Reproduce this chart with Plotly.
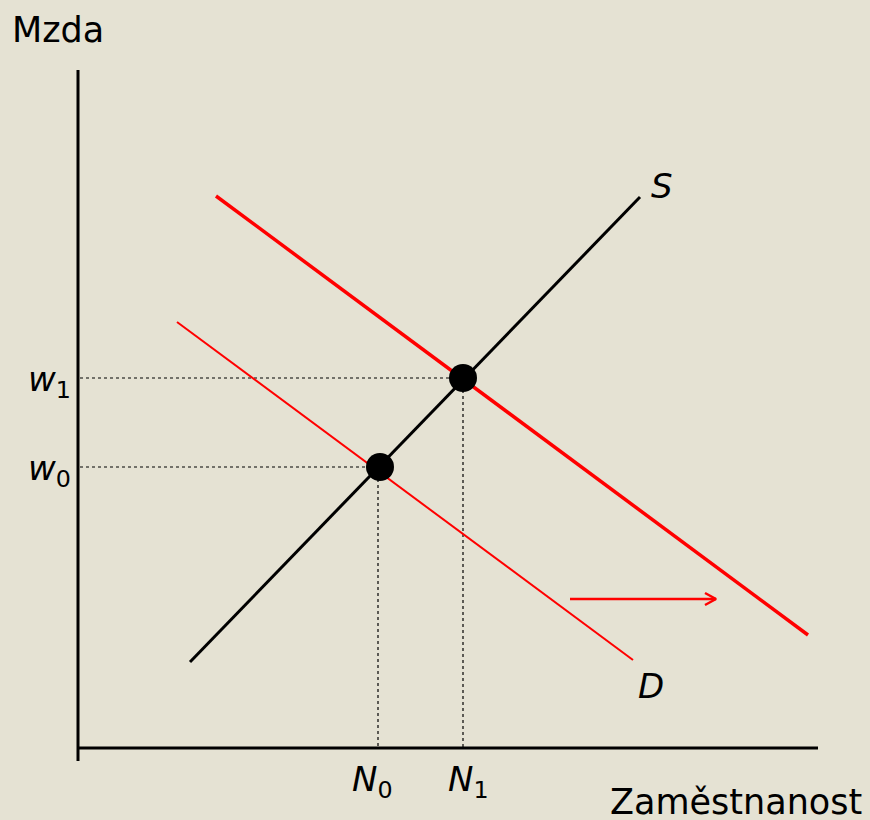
import plotly.graph_objects as go

# Coordinates in chart units (origin at the axes corner)
S_x = [112, 562]
S_y = [86, 551]
D0_x = [99, 555]
D0_y = [426, 88]
D1_x = [138, 730]
D1_y = [552, 113]
E_x = [302, 385]
E_y = [281, 370]
N_ticks = [300, 386]
N_labels = ["<i>N</i><sub>0</sub>", "<i>N</i><sub>1</sub>"]
N_shift = [-6, 4]
w_ticks = [281, 370]
w_labels = ["<i>w</i><sub>0</sub>", "<i>w</i><sub>1</sub>"]
arrow_x = [492, 638]
arrow_y = [149, 149]

BG = "#e5e2d3"
RED = "#ff0000"

fig = go.Figure()

# guide dotted lines
for ex, ey in zip(E_x, E_y):
    fig.add_trace(go.Scatter(x=[2, ex], y=[ey, ey], mode="lines",
                             line=dict(color="black", width=1.2, dash="dot"),
                             hoverinfo="skip", showlegend=False))
    vx = ex - 2 if ex < 350 else ex
    fig.add_trace(go.Scatter(x=[vx, vx], y=[ey, 0], mode="lines",
                             line=dict(color="black", width=1.2, dash="dot"),
                             hoverinfo="skip", showlegend=False))

# axes
fig.add_trace(go.Scatter(x=[0, 0], y=[678, -13], mode="lines",
                         line=dict(color="black", width=3), hoverinfo="skip", showlegend=False))
fig.add_trace(go.Scatter(x=[0, 740], y=[0, 0], mode="lines",
                         line=dict(color="black", width=3), hoverinfo="skip", showlegend=False))

# curves
fig.add_trace(go.Scatter(x=D0_x, y=D0_y, mode="lines", line=dict(color=RED, width=2),
                         hoverinfo="skip", showlegend=False))
fig.add_trace(go.Scatter(x=D1_x, y=D1_y, mode="lines", line=dict(color=RED, width=3.5),
                         hoverinfo="skip", showlegend=False))
fig.add_trace(go.Scatter(x=S_x, y=S_y, mode="lines", line=dict(color="black", width=3),
                         hoverinfo="skip", showlegend=False))

# shift arrow
fig.add_trace(go.Scatter(x=arrow_x, y=arrow_y, mode="lines", line=dict(color=RED, width=2.5),
                         hoverinfo="skip", showlegend=False))
fig.add_trace(go.Scatter(x=[arrow_x[1] - 11, arrow_x[1], arrow_x[1] - 11],
                         y=[arrow_y[1] + 6, arrow_y[1], arrow_y[1] - 6], mode="lines",
                         line=dict(color=RED, width=2.5), hoverinfo="skip", showlegend=False))

# equilibria
fig.add_trace(go.Scatter(x=E_x, y=E_y, mode="markers",
                         marker=dict(color="black", size=28), hoverinfo="skip", showlegend=False))

FONT = "DejaVu Sans, Verdana, sans-serif"
ann = []
for t, lab, sh in zip(N_ticks, N_labels, N_shift):
    ann.append(dict(x=t + sh, y=-33, text=lab, showarrow=False, xanchor="center", yanchor="middle",
                    font=dict(size=34, color="black", family=FONT)))
for t, lab in zip(w_ticks, w_labels):
    ann.append(dict(x=-5, y=t - 3, text=lab, showarrow=False, xanchor="right", yanchor="middle",
                    font=dict(size=34, color="black", family=FONT)))
ann.append(dict(x=584, y=562, text="<i>S</i>", showarrow=False, xanchor="center", yanchor="middle",
                font=dict(size=34, color="black", family=FONT)))
ann.append(dict(x=573, y=62, text="<i>D</i>", showarrow=False, xanchor="center", yanchor="middle",
                font=dict(size=34, color="black", family=FONT)))
ann.append(dict(x=-68, y=718, text="Mzda", showarrow=False, xanchor="left", yanchor="middle",
                font=dict(size=35, color="black", family=FONT)))
ann.append(dict(x=786, y=-54, text="Zaměstnanost", showarrow=False, xanchor="right", yanchor="middle",
                font=dict(size=35, color="black", family=FONT)))

fig.update_layout(
    width=870, height=820,
    margin=dict(l=0, r=0, t=0, b=0),
    paper_bgcolor=BG, plot_bgcolor=BG,
    xaxis=dict(range=[-78, 792], visible=False, fixedrange=True),
    yaxis=dict(range=[-72, 748], visible=False, fixedrange=True),
    annotations=ann,
    showlegend=False,
)

fig.write_html(
    "out.html",
    config={"displayModeBar": False},
    post_script="document.body.style.margin='0';document.body.style.overflow='hidden';"
                "document.body.style.background='" + BG + "';",
)
